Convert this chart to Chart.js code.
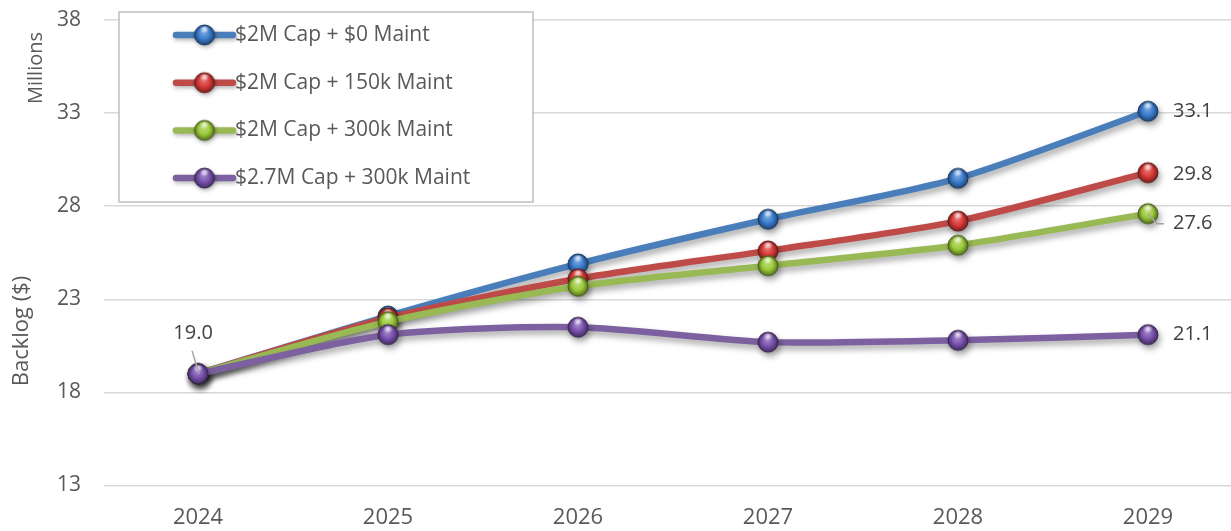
<!DOCTYPE html>
<html><head><meta charset="utf-8">
<script src="https://cdn.jsdelivr.net/npm/chart.js@4.4.1/dist/chart.umd.min.js"></script>
<style>html,body{margin:0;padding:0;background:#fff;overflow:hidden;} canvas{display:block;}</style>
</head><body>
<canvas id="c" width="1231" height="531" style="width:1231px;height:531px"></canvas>
<script>
// ---- data ----
const years = [2024, 2025, 2026, 2027, 2028, 2029];
const seriesNames = ['$2M Cap + $0 Maint', '$2M Cap + 150k Maint', '$2M Cap + 300k Maint', '$2.7M Cap + 300k Maint'];
const cap2M_maint0    = [19.0, 22.1, 24.9, 27.3, 29.5, 33.1];
const cap2M_maint150k = [19.0, 22.0, 24.1, 25.6, 27.2, 29.8];
const cap2M_maint300k = [19.0, 21.8, 23.7, 24.8, 25.9, 27.6];
const cap27M_maint300k = [19.0, 21.1, 21.5, 20.7, 20.8, 21.1];
const yTicks = [13, 18, 23, 28, 33, 38];
const yTitle = 'Backlog ($)';
const unitsLabel = 'Millions';

const seriesValues = [cap2M_maint0, cap2M_maint150k, cap2M_maint300k, cap27M_maint300k];
const seriesColors = ['#4A7EBB', '#BE4B48', '#98B954', '#7D60A0'];
const ballColors = ['#3B7DD0', '#D93A37', '#9BCB3A', '#7A52B0'];
const FONT = "'Open Sans', 'DejaVu Sans', sans-serif";
const TEXT = '#595959';

function shade(hex, amt) {
  const n = parseInt(hex.slice(1), 16);
  let r = (n >> 16) & 255, g = (n >> 8) & 255, b = n & 255;
  if (amt >= 0) { r += (255 - r) * amt; g += (255 - g) * amt; b += (255 - b) * amt; }
  else { r *= 1 + amt; g *= 1 + amt; b *= 1 + amt; }
  return 'rgb(' + (r | 0) + ',' + (g | 0) + ',' + (b | 0) + ')';
}
function makeBall(color, radius) {
  const size = radius * 2 + 4;
  const c = document.createElement('canvas'); c.width = size; c.height = size;
  const x = c.getContext('2d'); const cx = size / 2, cy = size / 2;
  const g = x.createRadialGradient(cx - radius * 0.1, cy - radius * 0.35, radius * 0.05, cx, cy, radius);
  g.addColorStop(0, shade(color, 0.35));
  g.addColorStop(0.55, color);
  g.addColorStop(1, shade(color, -0.45));
  x.beginPath(); x.arc(cx, cy, radius, 0, Math.PI * 2); x.fillStyle = g; x.fill();
  x.lineWidth = 1; x.strokeStyle = shade(color, -0.55); x.stroke();
  const h = x.createRadialGradient(cx, cy - radius * 0.6, 0, cx, cy - radius * 0.6, radius * 0.5);
  h.addColorStop(0, 'rgba(255,255,255,0.85)');
  h.addColorStop(1, 'rgba(255,255,255,0)');
  x.beginPath(); x.ellipse(cx, cy - radius * 0.55, radius * 0.5, radius * 0.32, 0, 0, Math.PI * 2);
  x.fillStyle = h; x.fill();
  return c;
}
const balls = ballColors.map(c => makeBall(c, 10));

const shadowPlugin = {
  id: 'shadow',
  beforeDatasetDraw(chart) {
    const ctx = chart.ctx; ctx.save();
    ctx.shadowColor = 'rgba(0,0,0,0.35)'; ctx.shadowBlur = 6; ctx.shadowOffsetX = 2; ctx.shadowOffsetY = 4;
  },
  afterDatasetDraw(chart) { chart.ctx.restore(); }
};

const labelPlugin = {
  id: 'valueLabels',
  afterDatasetsDraw(chart, args, opts) {
    const ctx = chart.ctx; ctx.save();
    ctx.font = '20px ' + FONT; ctx.fillStyle = '#404040'; ctx.textBaseline = 'middle';
    ctx.strokeStyle = '#A6A6A6'; ctx.lineWidth = 1.5;
    chart.data.datasets.forEach((ds, i) => {
      const meta = chart.getDatasetMeta(i);
      const n = meta.data.length - 1;
      const p = meta.data[n];
      const o = opts.end[i];
      const v = ds.data[n].y.toFixed(1);
      if (o.leader) {
        ctx.beginPath(); ctx.moveTo(p.x, p.y); ctx.lineTo(p.x + 9, p.y + o.dy); ctx.lineTo(p.x + 16, p.y + o.dy); ctx.stroke();
      }
      ctx.textAlign = 'left';
      ctx.fillText(v, p.x + o.dx, p.y + o.dy);
    });
    const s = opts.start;
    const sp = chart.getDatasetMeta(s.dataset).data[0];
    ctx.beginPath(); ctx.moveTo(sp.x - 6, sp.y - 23); ctx.lineTo(sp.x + 1, sp.y); ctx.stroke();
    ctx.textAlign = 'center';
    ctx.fillText(chart.data.datasets[s.dataset].data[0].y.toFixed(1), sp.x + s.dx, sp.y + s.dy);
    ctx.restore();
  }
};

const legendPlugin = {
  id: 'boxLegend',
  afterDraw(chart, args, o) {
    const ctx = chart.ctx; ctx.save();
    ctx.fillStyle = '#fff'; ctx.fillRect(o.x, o.y, o.w, o.h);
    ctx.strokeStyle = '#BFBFBF'; ctx.lineWidth = 1.5; ctx.strokeRect(o.x, o.y, o.w, o.h);
    chart.data.datasets.forEach((ds, i) => {
      const y = o.y + o.first + i * o.step;
      ctx.save();
      ctx.shadowColor = 'rgba(0,0,0,0.3)'; ctx.shadowBlur = 4; ctx.shadowOffsetX = 1; ctx.shadowOffsetY = 2;
      ctx.strokeStyle = ds.borderColor; ctx.lineWidth = 6.5; ctx.lineCap = 'round';
      ctx.beginPath(); ctx.moveTo(o.lineX0, y); ctx.lineTo(o.lineX1, y); ctx.stroke();
      const b = balls[i];
      ctx.drawImage(b, (o.lineX0 + o.lineX1) / 2 - b.width / 2, y - b.height / 2);
      ctx.restore();
      ctx.fillStyle = TEXT; ctx.font = '21px ' + FONT; ctx.textBaseline = 'middle'; ctx.textAlign = 'left';
      ctx.fillText(ds.label, o.lineX1 + 2, y);
    });
    ctx.restore();
  }
};

const titlePlugin = {
  id: 'axisTitles',
  afterDraw(chart) {
    const ctx = chart.ctx; ctx.save();
    ctx.fillStyle = TEXT; ctx.textAlign = 'center'; ctx.textBaseline = 'middle';
    ctx.translate(22, 331); ctx.rotate(-Math.PI / 2);
    ctx.font = '22px ' + FONT; ctx.fillText(yTitle, 0, 0);
    ctx.restore(); ctx.save();
    ctx.fillStyle = TEXT; ctx.textAlign = 'center'; ctx.textBaseline = 'middle';
    ctx.translate(36, 68); ctx.rotate(-Math.PI / 2);
    ctx.font = '20px ' + FONT; ctx.fillText(unitsLabel, 0, 0);
    ctx.restore();
  }
};

new Chart(document.getElementById('c'), {
  type: 'line',
  data: {
    datasets: seriesValues.map((vals, i) => ({
      label: seriesNames[i],
      data: vals.map((v, j) => ({ x: years[j], y: v })),
      borderColor: seriesColors[i],
      backgroundColor: seriesColors[i],
      borderWidth: 6.5,
      tension: 0.25,
      borderCapStyle: 'round',
      borderJoinStyle: 'round',
      pointStyle: balls[i],
      pointRadius: 10,
      order: seriesValues.length - 1 - i,
      clip: false
    }))
  },
  options: {
    responsive: false,
    animation: false,
    devicePixelRatio: 1,
    layout: { autoPadding: false, padding: { top: 20, right: 0, bottom: 0, left: 0 } },
    plugins: {
      legend: { display: false },
      tooltip: { enabled: false },
      valueLabels: {
        end: [{ dx: 25, dy: 0 }, { dx: 25, dy: 2 }, { dx: 25, dy: 10, leader: true }, { dx: 25, dy: 0 }],
        start: { dataset: 3, dx: -5, dy: -40 }
      },
      boxLegend: { x: 119, y: 12, w: 414, h: 190, first: 23, step: 47.7, lineX0: 176, lineX1: 233 }
    },
    scales: {
      x: {
        type: 'linear', min: 2023.505, max: 2029.437,
        afterBuildTicks: s => { s.ticks = years.map(v => ({ value: v })); },
        afterFit: s => { s.height = 45.5; s.paddingLeft = 0; s.paddingRight = 0; },
        grid: { display: false, drawTicks: false }, border: { display: false },
        ticks: { color: TEXT, font: { family: FONT, size: 22 }, padding: 19, maxRotation: 0, autoSkip: false, callback: v => String(v) }
      },
      y: {
        min: 13, max: 38,
        afterBuildTicks: s => { s.ticks = yTicks.map(v => ({ value: v })); },
        afterFit: s => { s.width = 104; s.paddingTop = 0; s.paddingBottom = 0; },
        grid: { color: '#D9D9D9', lineWidth: 1.5, drawTicks: false }, border: { display: false },
        ticks: { color: TEXT, font: { family: FONT, size: 21 }, padding: 23 }
      }
    }
  },
  plugins: [shadowPlugin, labelPlugin, legendPlugin, titlePlugin]
});
</script>
</body></html>
